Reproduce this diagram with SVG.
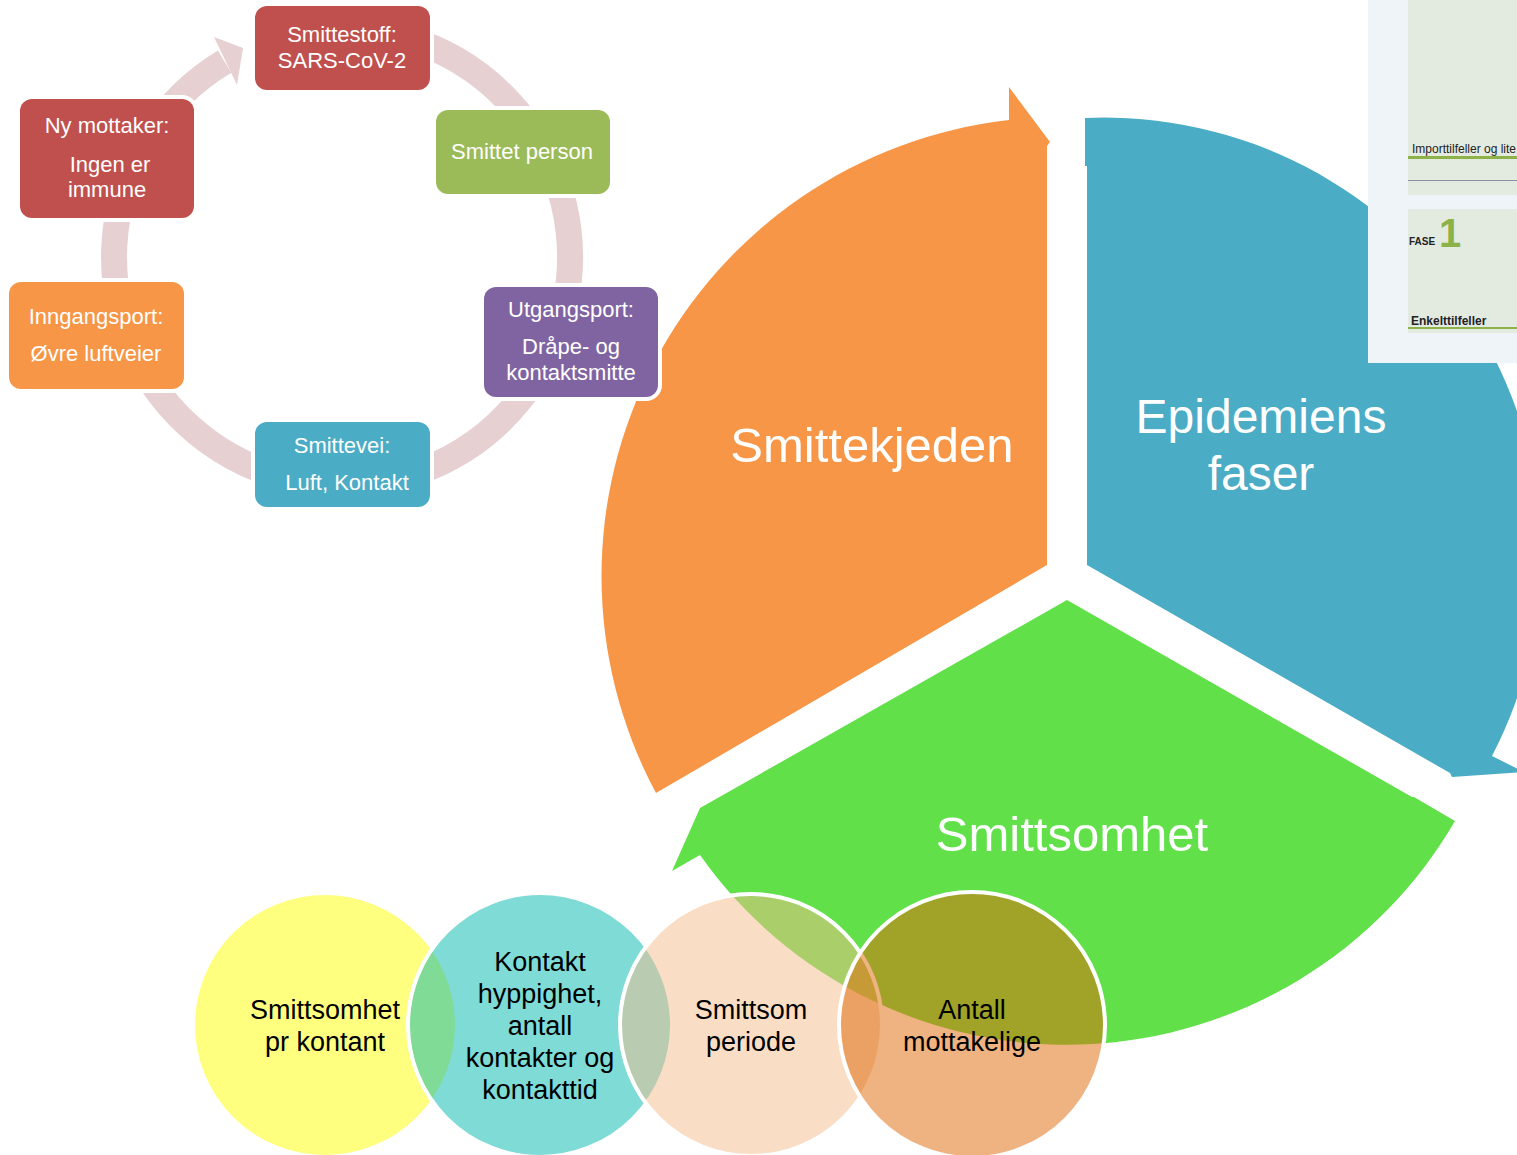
<svg xmlns="http://www.w3.org/2000/svg" width="1517" height="1155" viewBox="0 0 1517 1155">
<style>
.bx{stroke:#fff;stroke-width:8;paint-order:stroke}
.bt{font-family:"Liberation Sans",Arial,sans-serif;font-size:22px;fill:#fff;text-anchor:middle}
.big{font-family:"Liberation Sans",Arial,sans-serif;font-size:48px;fill:#fff;text-anchor:middle}
.ct{font-family:"Liberation Sans",Arial,sans-serif;font-size:27px;fill:#000;text-anchor:middle}
.circ{stroke:#fff;stroke-width:4;fill-opacity:0.5}
.ins{font-family:"Liberation Sans",Arial,sans-serif;fill:#222}
</style>
<rect width="1517" height="1155" fill="#fff"/>

<g id="seg-smittekjeden">
<path d="M1047,565 L656,793 A459,459 0 0 1 1009,120 L1009,87 L1050,142 L1047,146 Z" fill="#F79646"/>
<text class="big" x="872" y="462" style="font-size:49px">Smittekjeden</text>
</g>
<g id="seg-epidemiens-faser">
<path d="M1087,565 L1087,166 L1085,166 L1085,118 A437,437 0 0 1 1492,756 L1524,772 L1452,777 L1450,773 Z" fill="#4BACC6"/>
<text class="big" x="1261" y="433">Epidemiens</text>
<text class="big" x="1261" y="490">faser</text>
</g>
<g id="seg-smittsomhet">
<path d="M1067,600 L1412,797 L1414,797 L1455,821 A449,449 0 0 1 700,855 L672,871 L700,808 Z" fill="#61E04A"/>
<text class="big" x="1072" y="851" style="font-size:49px">Smittsomhet</text>
</g>

<g id="inset">
<rect x="1368" y="0" width="149" height="363" fill="#EFF4F8"/>
<rect x="1408" y="0" width="109" height="195" fill="#E3EBE1"/>
<text class="ins" x="1412" y="153" style="font-size:12px">Importtilfeller og lite</text>
<rect x="1408" y="156" width="109" height="3" fill="#8DB24A"/>
<rect x="1408" y="180" width="109" height="1" fill="#8A90A6"/>
<rect x="1408" y="209" width="109" height="124" fill="#E3EBE1"/>
<text class="ins" x="1409" y="245" style="font-size:10px;font-weight:bold">FASE</text>
<text x="1439" y="247" style="font-family:'Liberation Sans',Arial,sans-serif;font-size:40px;font-weight:bold;fill:#8DB24A">1</text>
<text class="ins" x="1411" y="325" style="font-size:12px;font-weight:bold">Enkelttilfeller</text>
<rect x="1408" y="327" width="109" height="2" fill="#8DB24A"/>
</g>

<g id="connectors">
<path d="M302.4,32.5 A228,228 0 1 1 224.6,61.6" fill="none" stroke="#E7D0D1" stroke-width="26"/>
<polygon points="214,37 243,48 237,85" fill="#E7D0D1"/>
</g>

<g id="node-smittestoff">
<rect class="bx" x="255" y="6" width="175" height="84" rx="12" fill="#C0504D"/>
<text class="bt" x="342" y="42">Smittestoff:</text>
<text class="bt" x="342" y="68">SARS-CoV-2</text>
</g>
<g id="node-smittet-person">
<rect class="bx" x="436" y="110" width="174" height="84" rx="12" fill="#9BBB59"/>
<text class="bt" x="522" y="159">Smittet person</text>
</g>
<g id="node-utgangsport">
<rect class="bx" x="484" y="287" width="174" height="110" rx="12" fill="#8064A2"/>
<text class="bt" x="571" y="317">Utgangsport:</text>
<text class="bt" x="571" y="354">Dråpe- og</text>
<text class="bt" x="571" y="380">kontaktsmitte</text>
</g>
<g id="node-smittevei">
<rect class="bx" x="255" y="422" width="175" height="85" rx="12" fill="#4BACC6"/>
<text class="bt" x="342" y="453">Smittevei:</text>
<text class="bt" x="347" y="490">Luft, Kontakt</text>
</g>
<g id="node-inngangsport">
<rect class="bx" x="9" y="282" width="175" height="107" rx="12" fill="#F79646"/>
<text class="bt" x="96" y="324">Inngangsport:</text>
<text class="bt" x="96" y="361">Øvre luftveier</text>
</g>
<g id="node-ny-mottaker">
<rect class="bx" x="20" y="99" width="174" height="119" rx="12" fill="#C0504D"/>
<text class="bt" x="107" y="133">Ny mottaker:</text>
<text class="bt" x="110" y="172">Ingen er</text>
<text class="bt" x="107" y="197">immune</text>
</g>

<g id="circle-smittsomhet-pr-kontant">
<circle class="circ" cx="325" cy="1025" r="132" fill="#FFFF00"/>
<text class="ct" x="325" y="1019">Smittsomhet</text>
<text class="ct" x="325" y="1051">pr kontant</text>
</g>
<g id="circle-kontakt">
<circle class="circ" cx="540" cy="1025" r="132" fill="#00B7AD"/>
<text class="ct" x="540" y="971">Kontakt</text>
<text class="ct" x="540" y="1003">hyppighet,</text>
<text class="ct" x="540" y="1035">antall</text>
<text class="ct" x="540" y="1067">kontakter og</text>
<text class="ct" x="540" y="1099">kontakttid</text>
</g>
<g id="circle-smittsom-periode">
<circle class="circ" cx="751" cy="1025" r="131" fill="#F3BB89"/>
<text class="ct" x="751" y="1019">Smittsom</text>
<text class="ct" x="751" y="1051">periode</text>
</g>
<g id="circle-antall-mottakelige">
<circle class="circ" cx="972" cy="1025" r="133" fill="#E06604"/>
<text class="ct" x="972" y="1019">Antall</text>
<text class="ct" x="972" y="1051">mottakelige</text>
</g>
</svg>
